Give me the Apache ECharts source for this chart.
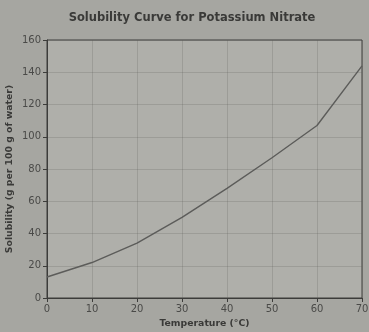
<!DOCTYPE html>
<html>
<head>
<meta charset="utf-8">
<script src="https://cdn.jsdelivr.net/npm/echarts@6/dist/echarts.min.js"></script>
<style>
  html, body { margin: 0; padding: 0; background: #a6a6a1; }
  #chart { width: 369px; height: 332px; }
</style>
</head>
<body>
<div id="chart"></div>
<script>
// Solubility of KNO3 in water by temperature
const temperatures = [0, 10, 20, 30, 40, 50, 60, 70];
const solubility = [13, 22, 34, 50, 68, 87, 107, 144];
const xTicks = [0, 10, 20, 30, 40, 50, 60, 70];
const yTicks = [0, 20, 40, 60, 80, 100, 120, 140, 160];

const chart = echarts.init(document.getElementById('chart'));
const axisText = { color: '#4a4a48', fontSize: 10, fontFamily: 'DejaVu Sans' };
const nameText = { color: '#3a3a38', fontSize: 9.3, fontWeight: 'bold', fontFamily: 'DejaVu Sans' };

chart.setOption({
  backgroundColor: '#a6a6a1',
  animation: false,
  title: {
    text: 'Solubility Curve for Potassium Nitrate',
    left: 187, top: 7, textAlign: 'center',
    textStyle: { color: '#3a3a38', fontSize: 11.5, fontWeight: 'bold', fontFamily: 'DejaVu Sans' }
  },
  grid: {
    left: 47, right: 7, top: 40, bottom: 34,
    containLabel: false, outerBoundsMode: 'none',
    show: true, backgroundColor: '#afafaa', borderColor: '#3c3c3a', borderWidth: 1
  },
  xAxis: {
    type: 'value', min: xTicks[0], max: xTicks[xTicks.length - 1], interval: 10,
    name: 'Temperature (°C)', nameLocation: 'middle', nameGap: 21, nameMoveOverlap: false,
    nameTextStyle: nameText,
    axisLine: { onZero: false, lineStyle: { color: '#3c3c3a' } },
    axisTick: { show: true, length: 4, lineStyle: { color: '#3c3c3a' } },
    axisLabel: Object.assign({ margin: 6 }, axisText),
    splitLine: { show: true, lineStyle: { color: 'rgba(90,90,88,0.22)', width: 1 } }
  },
  yAxis: {
    type: 'value', min: yTicks[0], max: yTicks[yTicks.length - 1], interval: 20,
    name: 'Solubility (g per 100 g of water)', nameLocation: 'middle', nameGap: 33, nameMoveOverlap: false,
    nameTextStyle: nameText,
    axisLine: { show: true, lineStyle: { color: '#3c3c3a' } },
    axisTick: { show: true, length: 4, lineStyle: { color: '#3c3c3a' } },
    axisLabel: Object.assign({ margin: 6 }, axisText),
    splitLine: { show: true, lineStyle: { color: 'rgba(90,90,88,0.22)', width: 1 } }
  },
  series: [{
    type: 'line',
    data: temperatures.map((t, i) => [t, solubility[i]]),
    showSymbol: false,
    lineStyle: { color: '#5c5c5a', width: 1.4 }
  }]
});
</script>
</body>
</html>
